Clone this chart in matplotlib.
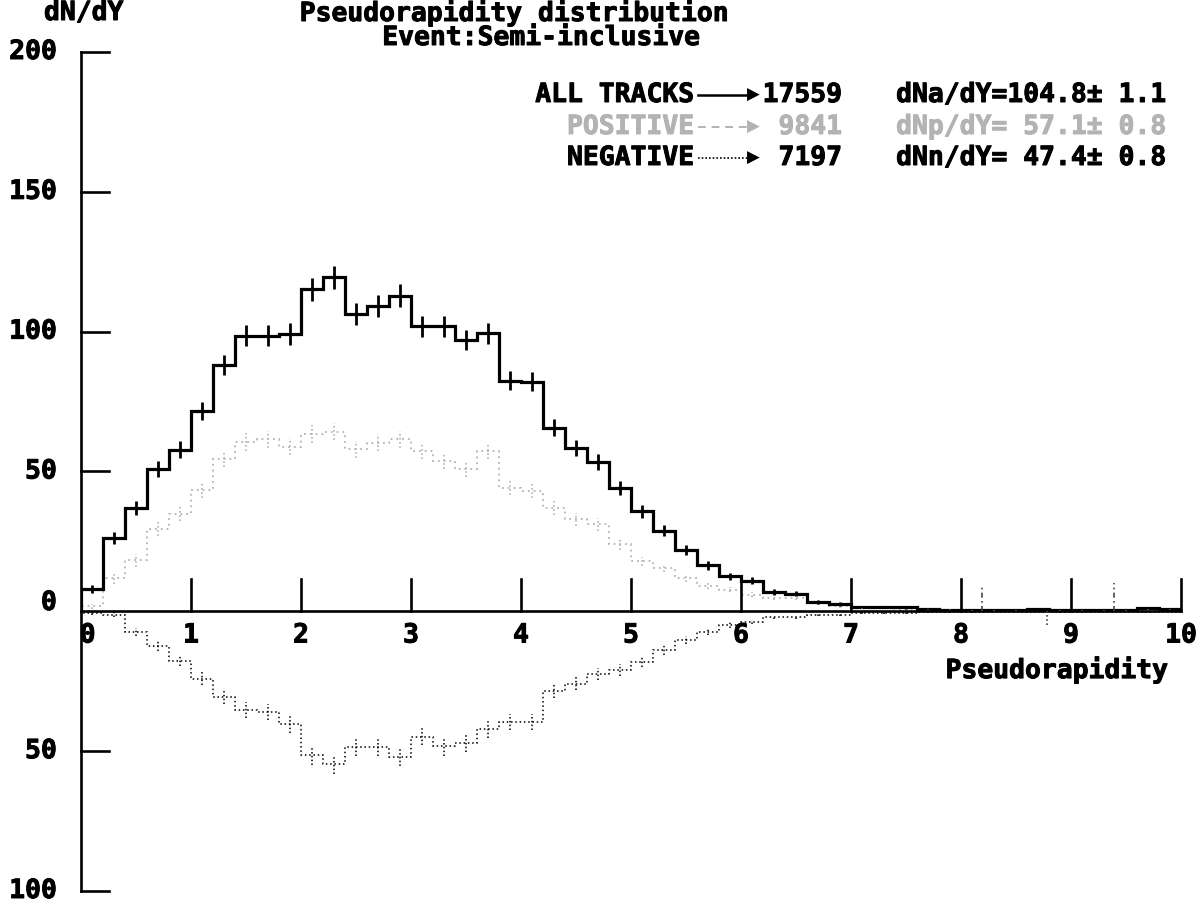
import numpy as np
import matplotlib.pyplot as plt
import matplotlib.patheffects as pe
from matplotlib.lines import Line2D

# Pseudorapidity bins: 50 bins of 0.2 from 0 to 10
eta_min, eta_max, n_bins = 0.0, 10.0, 50

# dN/dY for all tracks
all_tracks = [8.1, 26.3, 37.0, 50.8, 57.8, 71.5, 88.1, 98.6, 98.6, 99.2,
              115.1, 119.5, 106.3, 109.1, 112.9, 101.9, 101.9, 97.0, 99.4, 82.5,
              82.1, 65.7, 58.5, 53.4, 44.0, 35.8, 28.9, 21.9, 16.4, 12.5,
              11.0, 6.9, 6.3, 3.3, 2.6, 1.5, 1.6, 1.4, 0.7, 0.6,
              0.3, 0.3, 0.4, 0.8, 0.3, 0.3, 0.6, 0.3, 1.1, 1.0]
all_err = [1.4, 2.2, 2.4, 2.8, 3.0, 3.2, 3.5, 3.8, 3.8, 3.8,
           4.0, 4.1, 3.8, 3.9, 4.0, 3.7, 3.7, 3.6, 3.7, 3.4,
           3.4, 3.0, 2.9, 2.7, 2.5, 2.3, 2.0, 1.8, 1.5, 1.3,
           1.2, 1.0, 0.9, 0.7, 0.6, 0.4, 0.4, 0.4, 0.3, 0.3,
           0.2, 0.2, 0.2, 0.3, 0.2, 0.2, 0.3, 0.2, 0.3, 0.3]

# positive tracks
positive = [1.8, 11.9, 18.2, 29.6, 34.9, 43.3, 54.5, 60.6, 61.5, 58.8,
            63.3, 64.3, 58.0, 60.3, 61.5, 57.3, 53.8, 50.8, 57.3, 44.2,
            43.0, 37.0, 32.9, 31.1, 23.9, 17.9, 15.5, 11.9, 9.0, 7.8,
            6.0, 4.8, 4.8, 3.0, 1.8, 1.2, 1.4, 1.0, 0.5, 0.5,
            0.3, 0.2, 0.3, 0.5, 0.3, 0.2, 0.3, 0.4, 0.6, 0.5]
positive_err = [0.8, 2.0, 2.2, 2.5, 2.6, 2.8, 3.0, 3.1, 3.1, 3.0,
                3.2, 3.2, 3.0, 3.1, 3.1, 3.0, 2.9, 2.8, 3.0, 2.6,
                2.6, 2.4, 2.3, 2.2, 1.9, 1.7, 1.5, 1.3, 1.1, 1.0,
                0.9, 0.8, 0.8, 0.6, 0.5, 0.3, 0.3, 0.3, 0.2, 0.2,
                0.2, 0.2, 0.2, 0.2, 0.2, 0.2, 0.2, 0.2, 0.2, 0.2]

# negative tracks (drawn downwards)
negative = [0.7, 1.2, 7.4, 12.3, 17.6, 24.1, 30.5, 35.2, 36.1, 40.4,
            51.4, 54.7, 48.4, 48.4, 52.0, 44.8, 48.3, 47.0, 42.2, 39.6,
            39.6, 28.5, 25.9, 22.3, 21.0, 18.0, 13.9, 10.2, 7.3, 4.9,
            3.8, 2.2, 2.2, 1.2, 1.2, 0.6, 0.5, 0.5, 0.4, 0.3,
            0.3, 0.2, 0.2, 0.2, 0.3, 0.2, 0.1, 0.2, 0.2, 0.1]
negative_err = [0.5, 0.8, 1.4, 1.8, 2.1, 2.4, 2.7, 2.8, 2.9, 3.0,
                3.4, 3.5, 3.3, 3.3, 3.4, 3.1, 3.3, 3.2, 3.0, 2.9,
                2.9, 2.5, 2.4, 2.2, 2.1, 1.9, 1.7, 1.4, 1.2, 1.0,
                0.8, 0.6, 0.6, 0.4, 0.4, 0.3, 0.3, 0.3, 0.2, 0.2,
                0.2, 0.2, 0.2, 0.2, 0.2, 0.2, 0.1, 0.2, 0.2, 0.1]

# isolated overflow spikes
pos_spike_eta = [8.19, 9.39]
pos_spike_val = [9.0, 10.0]
neg_spike_eta = [8.78]
neg_spike_val = [5.0]

y_ticks = [200, 150, 100, 50, 0, -50, -100]
y_tick_labels = ['200', '150', '100', '50', '0', '50', '100']
x_ticks = [1, 2, 3, 4, 5, 6, 7, 8, 9, 10]

legend_rows = [
    ('ALL TRACKS', '17559', 'dNa/dY=104.8\u00b1 1.1'),
    ('POSITIVE', '9841', 'dNp/dY= 57.1\u00b1 0.8'),
    ('NEGATIVE', '7197', 'dNn/dY= 47.4\u00b1 0.8'),
]

W, H = 1203, 902
plt.rcParams['font.family'] = ['DejaVu Sans Mono', 'DejaVu Sans']
plt.rcParams['font.weight'] = 'bold'
FS = 19
heavy = [pe.withStroke(linewidth=0.7, foreground='black')]

fig = plt.figure(figsize=(W / 100, H / 100), dpi=100)
ax = fig.add_axes([81 / W, 11 / H, 1100 / W, 839 / H])
ax.set_xlim(eta_min, eta_max)
ax.set_ylim(-100, 200)
ax.axis('off')

edges = np.linspace(eta_min, eta_max, n_bins + 1)
centers = 0.5 * (edges[:-1] + edges[1:])
all_arr = np.array(all_tracks)
pos_arr = np.array(positive)
neg_arr = -np.array(negative)

GRAY = '#b3b3b3'

# axes frame drawn by hand
ax.plot([0, 0], [-100, 200], color='black', lw=1.9, clip_on=False)
ax.plot([0, 10], [0, 0], color='black', lw=1.9, clip_on=False)
for v, lab in zip(y_ticks, y_tick_labels):
    if v != 0:
        ax.plot([0, 0.25], [v, v], color='black', lw=1.9, clip_on=False)
    ax.text(-0.22, v + (3 if v == 0 else 0), lab, ha='right', va='center',
            fontsize=FS, path_effects=heavy)
for t in x_ticks:
    ax.plot([t, t], [0, 11.5], color='black', lw=1.9, clip_on=False)
    ax.text(t, -4, str(t), ha='center', va='top', fontsize=FS, path_effects=heavy)
ax.text(0.06, -4, '0', ha='center', va='top', fontsize=FS, path_effects=heavy)
ax.text(9.88, -16, 'Pseudorapidity', ha='right', va='top', fontsize=FS,
        path_effects=heavy)

# positive and negative histograms
ax.stairs(pos_arr, edges, baseline=0, color=GRAY, lw=1.3, linestyle=(0, (1, 2.2)))
ax.vlines(centers, pos_arr - positive_err, pos_arr + positive_err,
          colors=GRAY, lw=1.2, linestyles=(0, (1, 1.5)))
ax.stairs(neg_arr, edges, baseline=0, color='black', lw=1.1, linestyle=(0, (1, 1.8)))
ax.vlines(centers, neg_arr - negative_err, neg_arr + negative_err,
          colors='black', lw=1.1, linestyles=(0, (1, 1.5)))
ax.vlines(pos_spike_eta, 0, pos_spike_val, colors='#444444', lw=1.2,
          linestyles=(0, (3, 2, 1, 2)))
ax.vlines(neg_spike_eta, -np.array(neg_spike_val), 0, colors='#444444', lw=1.2,
          linestyles=(0, (1, 1.5)))

# all tracks with error bars
ax.stairs(all_arr, edges, baseline=0, color='black', lw=2.3)
ax.errorbar(centers, all_arr, yerr=all_err, fmt='none', ecolor='black',
            elinewidth=2.0, capsize=0)


def px(x, y):
    return x / W, 1 - y / H


# header texts
fig.text(*px(44, 13), 'dN/dY', ha='left', va='center', fontsize=FS, path_effects=heavy)
fig.text(*px(514, 13), 'Pseudorapidity distribution', ha='center', va='center',
         fontsize=FS, path_effects=heavy)
fig.text(*px(541, 38), 'Event:Semi-inclusive', ha='center', va='center',
         fontsize=FS, path_effects=heavy)

# legend block
row_y = [95, 127, 158]
row_colors = ['black', GRAY, 'black']
row_styles = ['-', (0, (4, 3)), (0, (1, 1.2))]
row_widths = [1.8, 1.4, 1.2]
for (name, count, rate), y, c, ls, lw in zip(legend_rows, row_y, row_colors,
                                             row_styles, row_widths):
    fx = [pe.withStroke(linewidth=0.7, foreground=c)]
    fig.text(*px(694, y), name, ha='right', va='center', fontsize=FS, color=c,
             path_effects=fx)
    fig.add_artist(Line2D([698 / W, 750 / W], [1 - y / H] * 2, color=c, lw=lw,
                          linestyle=ls, transform=fig.transFigure))
    fig.text(*px(747, y), '\u25b6', ha='left', va='center', fontsize=12, color=c,
             family='DejaVu Sans')
    fig.text(*px(842, y), count, ha='right', va='center', fontsize=FS, color=c,
             path_effects=fx)
    fig.text(*px(1166, y), rate, ha='right', va='center', fontsize=FS, color=c,
             path_effects=fx)

fig.savefig('out.png', dpi=100, facecolor='white')
